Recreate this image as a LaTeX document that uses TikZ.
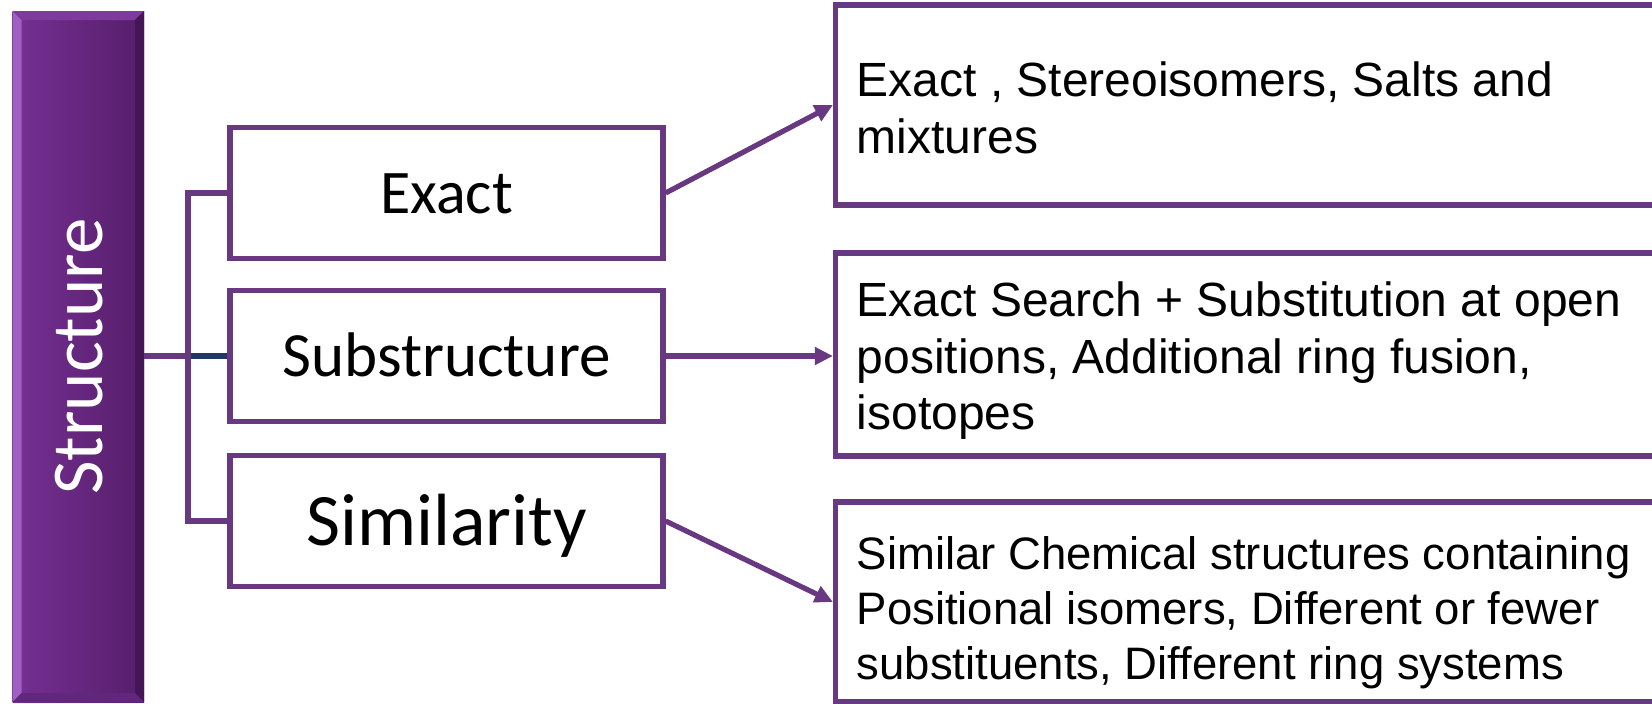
\documentclass[tikz,border=0pt]{standalone}
\usepackage{fontspec}
\setmainfont{Liberation Sans}
\newfontfamily\calibrifont{Carlito}
\usetikzlibrary{arrows.meta}
\definecolor{lp}{RGB}{104,56,128}
\definecolor{dblue}{RGB}{31,56,100}
\definecolor{barL}{RGB}{118,48,148}
\definecolor{barR}{RGB}{86,30,106}
\definecolor{bevL}{RGB}{160,95,195}
\definecolor{bevT}{RGB}{126,58,156}
\definecolor{bevR}{RGB}{68,22,86}
\definecolor{bevB}{RGB}{98,38,126}
\tikzset{
  midbox/.style={draw=lp, line width=5.2pt, fill=white, minimum width=433pt, minimum height=131pt, inner sep=0pt},
  rbox/.style={draw=lp, line width=5.2pt, fill=white, minimum width=900pt, inner sep=0pt},
  rtext/.style={anchor=west, inner sep=0pt, align=left, font=\fontsize{48}{56.5}\selectfont},
  conn/.style={draw=lp, line width=5.2pt},
  arr/.style={draw=lp, line width=5.2pt, -{Triangle[length=18pt,width=17pt]}},
}
\begin{document}
\begin{tikzpicture}[x=1pt,y=-1pt]
\clip (0,0) rectangle (1652,704);
\fill[white] (0,0) rectangle (1652,704);
% left bar
\shade[left color=barL, right color=barR] (12.5,11) rectangle (144,702);
\fill[bevL] (12.5,11) -- (21.5,20) -- (21.5,693) -- (12.5,702) -- cycle;
\fill[bevT] (12.5,11) -- (144,11) -- (135,20) -- (21.5,20) -- cycle;
\fill[bevR] (144,11) -- (144,702) -- (135,693) -- (135,20) -- cycle;
\fill[bevB] (12.5,702) -- (144,702) -- (135,693) -- (21.5,693) -- cycle;
\node[minimum width=131.5pt, minimum height=691pt, inner sep=0pt] (bar) at (78.25,356.5) {};
\node[rotate=90, text=white, inner sep=0pt, font=\calibrifont\fontsize{73}{80}\selectfont, text height=47pt, text depth=0pt] (bartext) at (79,356.5) {Structure};
% middle boxes
\node[midbox, font=\calibrifont\fontsize{62}{70}\selectfont, text height=40pt, text depth=0pt] (exact) at (446.5,193) {Exact};
\node[midbox, font=\calibrifont\fontsize{63}{70}\selectfont, text height=41pt, text depth=0pt] (sub) at (446.5,356) {Substructure};
\node[midbox, font=\calibrifont\fontsize{74}{80}\selectfont, text height=48pt, text depth=0pt] (sim) at (446.5,521) {Similarity};
% right boxes
\node[rbox, minimum height=200pt] (r1) at (1285.5,105) {};
\node[rbox, minimum height=203pt] (r2) at (1285.5,354.5) {};
\node[rbox, minimum height=200pt] (r3) at (1285.5,602) {};
\node[rtext] (t1) at (856.5,113.5) {\strut Exact , Stereoisomers, Salts and\\mixtures\strut};
\node[rtext] (t2) at (856.5,362) {\strut Exact Search + Substitution at open\\positions, Additional ring fusion,\\isotopes\strut};
\node[rtext, font=\fontsize{45.5}{55}\selectfont] (t3) at (856.5,613.5) {\strut Similar Chemical structures containing\\Positional isomers, Different or fewer\\substituents, Different ring systems\strut};
% tree connectors
\coordinate (j) at (188,356);
\draw[draw=dblue, line width=5.2pt] (j) -- (sub.west);
\draw[conn] (bar.east |- j) -- (j);
\draw[conn] (exact.west) -| (j) |- (sim.west);
% arrows
\draw[arr] (exact.east) -- (r1.west);
\draw[arr] (sub.east) -- (sub.east -| r2.west);
\draw[arr] (sim.east) -- (r3.west);
\end{tikzpicture}
\end{document}
